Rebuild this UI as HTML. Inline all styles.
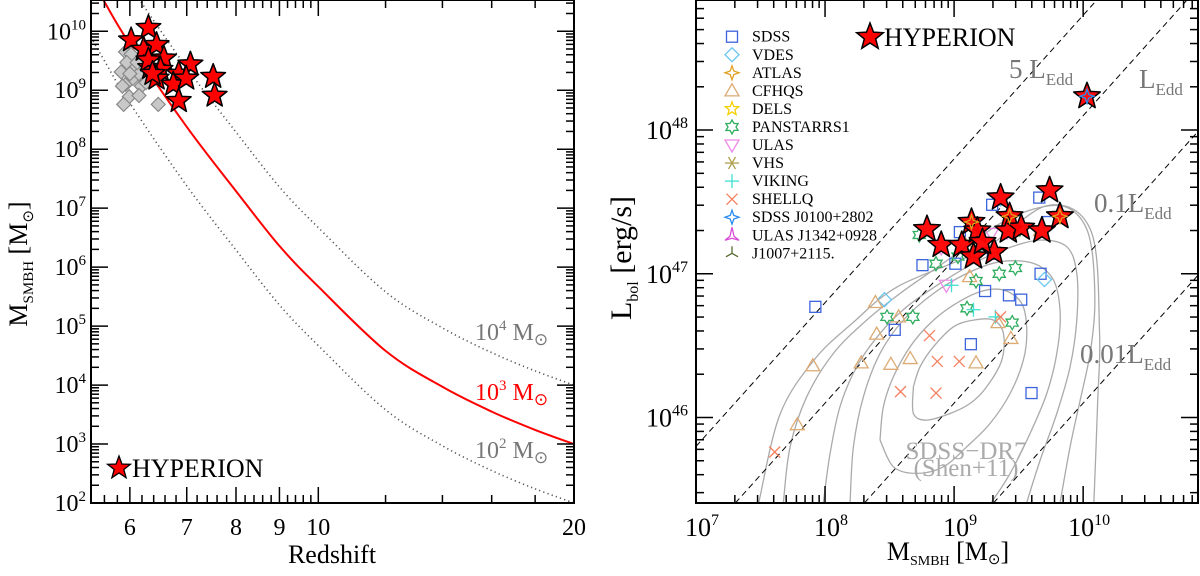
<!DOCTYPE html>
<html><head><meta charset="utf-8">
<style>
html,body{margin:0;padding:0;background:#fff;overflow:hidden;width:1200px;height:576px;}
svg{display:block;font-family:"Liberation Serif",serif;overflow:hidden;}
</style></head>
<body>
<svg id="fig" width="1200" height="576" viewBox="0 0 1200 576" xmlns="http://www.w3.org/2000/svg">
<defs>
<clipPath id="clipL"><rect x="91" y="0" width="483" height="503"/></clipPath>
<clipPath id="clipR"><rect x="696" y="0" width="502" height="503"/></clipPath>
</defs>
<g id="left"></g>
<g id="right"></g>
</svg>
<script>
// ---------- LEFT PANEL DATA ----------
const zCurve=[5.4,5.6,6,7,8,9,10,12,14,16,18,20];
const logMSeed3=[10.9,10.5,9.78,8.38,7.29,6.36,5.67,4.58,3.97,3.55,3.24,3.0];
const seedLogs=[2,3,4];
const hypZ=[6.31,6.02,6.23,6.45,6.58,6.34,6.31,6.52,6.45,6.85,7.07,6.75,6.99,6.85,7.52,7.55,6.38];
const hypLogM=[10.06,9.85,9.69,9.77,9.54,9.38,9.51,9.35,9.2,9.28,9.44,9.1,9.2,8.82,9.23,8.91,9.28];
const grayZ=[5.93,6.02,5.86,5.95,6.09,5.93,6.05,6.15,6.19,5.99,6.15,5.9,6.48,6.27,6.12,6.0,5.88];
const grayLogM=[9.65,9.61,9.31,9.47,9.38,9.10,9.2,9.28,9.07,8.89,8.91,8.76,8.76,9.13,9.47,9.28,9.07];
const yTicksL=[2,3,4,5,6,7,8,9,10];
const xMajorL=[6,7,8,9,10,20];
const xMinorL=[5.6,5.8,6.2,6.4,6.6,6.8,7.2,7.4,7.6,7.8,8.2,8.4,8.6,8.8,9.2,9.4,9.6,9.8,12,14,16,18];

// ---------- RIGHT PANEL DATA ----------
const eddFactors=[5,1,0.1,0.01];
const sdssM=[7.925,8.755,9.01,9.045,8.54,9.13,9.24,9.425,9.52,9.67,9.60,9.66,9.73,9.295,9.30];
const sdssL=[46.77,47.06,47.07,47.29,46.61,46.51,46.88,46.85,46.82,47.0,46.17,47.53,47.36,47.48,47.14];
const vdesM=[8.46,9.70,9.36];
const vdesL=[46.82,46.96,47.52];
const atlasM=[9.135,9.43,9.82];
const atlasL=[47.36,47.40,47.40];
const cfhqsM=[7.905,7.785,8.28,8.51,8.66,8.39,8.40,8.57,9.12,9.17,9.34,9.44,9.09,9.67];
const cfhqsL=[46.36,45.95,46.38,46.37,46.41,46.80,46.58,46.70,46.98,46.38,46.66,46.55,47.2,47.30];
const delsM=[9.135,9.43];
const delsL=[47.36,47.40];
const ps1M=[8.73,8.86,8.48,8.68,9.10,9.17,9.35,9.475,9.45,9.19,9.46,9.51,9.03,9.16];
const ps1L=[47.27,47.07,46.70,46.70,46.76,46.95,47.0,47.04,46.66,47.31,47.32,47.31,47.12,47.14];
const ulasM=[8.94,9.29,9.41,8.90];
const ulasL=[46.92,47.28,47.29,47.18];
const vhsM=[9.33];
const vhsL=[47.15];
const vikingM=[8.98,9.15,9.32];
const vikingL=[46.92,46.75,46.70];
const shellqM=[7.61,8.81,8.87,9.04,8.585,8.86,9.36];
const shellqL=[45.76,46.57,46.39,46.39,46.18,46.17,46.70];
const j0100M=[10.03];
const j0100L=[48.235];
const j1342M=[9.36];
const j1342L=[47.53];
const j1007M=[9.15];
const j1007L=[47.12];
const hypRM=[8.79,8.90,9.06,9.135,9.18,9.15,9.31,9.36,9.43,9.42,9.52,9.68,9.74,9.82,10.03,9.22];
const hypRL=[47.31,47.20,47.20,47.36,47.30,47.12,47.15,47.53,47.40,47.30,47.32,47.30,47.58,47.40,48.235,47.22];
const contour1=[[8.685,46.214],[8.736,46.353],[8.84,46.492],[8.995,46.631],[9.15,46.678],[9.305,46.678],[9.382,46.585],[9.37,46.4],[9.253,46.214],[9.124,46.098],[8.969,46.028],[8.788,45.982],[8.685,46.028],[8.685,46.214]];
const contour2=[[8.426,45.843],[8.452,46.075],[8.53,46.284],[8.659,46.492],[8.814,46.655],[8.995,46.782],[9.201,46.875],[9.382,46.887],[9.524,46.794],[9.563,46.608],[9.537,46.4],[9.434,46.167],[9.279,45.959],[9.098,45.796],[8.917,45.657],[8.711,45.611],[8.53,45.657],[8.426,45.843]];
const contour3=[[8.194,45.41],[8.22,45.796],[8.297,46.144],[8.426,46.446],[8.607,46.678],[8.84,46.863],[9.098,47.002],[9.357,47.084],[9.615,47.072],[9.77,46.956],[9.822,46.724],[9.796,46.446],[9.718,46.167],[9.589,45.889],[9.434,45.611],[9.29,45.41]];
const contour4=[[7.987,45.41],[8.039,45.75],[8.116,46.075],[8.245,46.353],[8.426,46.585],[8.633,46.77],[8.891,46.933],[9.15,47.072],[9.408,47.176],[9.667,47.234],[9.873,47.188],[9.951,47.002],[9.951,46.678],[9.899,46.353],[9.796,46.028],[9.667,45.704],[9.563,45.41]];
const contour5=[[7.677,45.41],[7.729,45.796],[7.858,46.144],[8.065,46.446],[8.323,46.678],[8.581,46.863],[8.84,47.026],[9.098,47.188],[9.357,47.35],[9.615,47.45],[9.847,47.47],[10.0,47.36],[10.07,47.15],[10.09,46.77],[10.054,46.446],[9.977,46.121],[9.899,45.796],[9.822,45.41]];
const contour6=[[7.487,45.41],[7.65,46.02],[7.917,46.402],[8.214,46.658],[8.57,46.914],[9.222,47.168],[9.726,47.475],[10.06,47.3],[10.127,46.606],[10.112,46.095],[10.083,45.41]];
const yMajorR=[46,47,48];
const xMajorR=[7,8,9,10];

// ---------- SCALES ----------
const L={x0:91,x1:574,y0:503,y1:0,zmin:5.40,zmax:20,mmin:2,mmax:10.53};
const xL=z=>L.x0+(Math.log10(z)-Math.log10(L.zmin))/(Math.log10(L.zmax)-Math.log10(L.zmin))*(L.x1-L.x0);
const yL=m=>L.y0-(m-L.mmin)/(L.mmax-L.mmin)*(L.y0-L.y1);
const R={x0:696,x1:1198,y0:503,y1:0,mmin:7,mmax:10.89,lmin:45.405,lmax:48.905};
const xR=m=>R.x0+(m-R.mmin)/(R.mmax-R.mmin)*(R.x1-R.x0);
const yR=l=>R.y0-(l-R.lmin)/(R.lmax-R.lmin)*(R.y0-R.y1);

const NS='http://www.w3.org/2000/svg';
function mk(tag,attrs,parent){const e=document.createElementNS(NS,tag);for(const k in attrs)e.setAttribute(k,attrs[k]);parent.appendChild(e);return e;}
function smooth(pts){let d='M'+pts[0][0].toFixed(1)+','+pts[0][1].toFixed(1);
 for(let i=0;i<pts.length-1;i++){const p0=pts[i-1]||pts[i],p1=pts[i],p2=pts[i+1],p3=pts[i+2]||p2;
  const c1=[p1[0]+(p2[0]-p0[0])/6,p1[1]+(p2[1]-p0[1])/6],c2=[p2[0]-(p3[0]-p1[0])/6,p2[1]-(p3[1]-p1[1])/6];
  d+=' C'+c1[0].toFixed(1)+','+c1[1].toFixed(1)+' '+c2[0].toFixed(1)+','+c2[1].toFixed(1)+' '+p2[0].toFixed(1)+','+p2[1].toFixed(1);}
 return d;}
function starPts(cx,cy,n,R1,r1){let p=[];for(let i=0;i<2*n;i++){const a=-Math.PI/2+i*Math.PI/n;const rr=i%2?r1:R1;p.push((cx+rr*Math.cos(a)).toFixed(1)+','+(cy+rr*Math.sin(a)).toFixed(1));}return p.join(' ');}

const gl=document.getElementById('left');
const gr=document.getElementById('right');

// ---------- LEFT PANEL ----------
const lc=mk('g',{'clip-path':'url(#clipL)'},gl);


seedLogs.forEach(s=>{
 const pts=zCurve.map((z,i)=>[xL(z),yL(logMSeed3[i]+(s-3))]);
 const p=mk('path',{d:smooth(pts),fill:'none',stroke:s===3?'#ff0000':'#555','stroke-width':s===3?2:1.6,'stroke-dasharray':s===3?'none':'1.2,3.2'},lc);
 
 
});
grayZ.forEach((z,i)=>{
 const cx=xL(z),cy=yL(grayLogM[i]),h=7;
 const d=mk('polygon',{points:`${cx},${cy-h} ${cx+h},${cy} ${cx},${cy+h} ${cx-h},${cy}`,fill:'#c8c8c8',stroke:'#888','stroke-width':1.2},lc);
 
 
});
hypZ.forEach((z,i)=>{
 const s=mk('polygon',{points:starPts(xL(z),yL(hypLogM[i]),5,13,5.5),fill:'#f00',stroke:'#000','stroke-width':1.5,'stroke-linejoin':'round'},lc);
 
 
});
const fl=mk('rect',{x:L.x0,y:0,width:L.x1-L.x0,height:L.y0,fill:'none',stroke:'#000','stroke-width':2},gl);


const tl=mk('g',{stroke:'#000','stroke-width':1.5},gl);


for(let dcd=2;dcd<=10;dcd++){for(let k=1;k<=9;k++){const m=dcd+Math.log10(k);if(m>L.mmax)continue;const y=yL(m);const len=k===1?17:8;
 mk('line',{x1:L.x0,x2:L.x0+len,y1:y,y2:y},tl);mk('line',{x1:L.x1,x2:L.x1-len,y1:y,y2:y},tl);}}
xMajorL.forEach(z=>{const x=xL(z);mk('line',{x1:x,x2:x,y1:L.y0,y2:L.y0-16},tl);mk('line',{x1:x,x2:x,y1:0,y2:16},tl);});
xMinorL.forEach(z=>{const x=xL(z);mk('line',{x1:x,x2:x,y1:L.y0,y2:L.y0-8},tl);mk('line',{x1:x,x2:x,y1:0,y2:8},tl);});
yTicksL.forEach(m=>{const t=mk('text',{x:86,y:yL(m)+8,'text-anchor':'end','font-size':24,fill:'#000'},gl);
 
 
 t.innerHTML='10<tspan dy="-10" font-size="15">'+m+'</tspan>';});
xMajorL.forEach(z=>{const t=mk('text',{x:xL(z),y:535,'text-anchor':'middle','font-size':24,fill:'#000'},gl);
 
 
 t.textContent=z;});
</script>
<script>
// ---------- RIGHT PANEL ----------
(function(){
const rc=mk('g',{'clip-path':'url(#clipR)'},gr);


[contour1,contour2,contour3,contour4,contour5,contour6].forEach((c,i)=>{
 const p=mk('path',{d:smooth(c.map(q=>[xR(q[0]),yR(q[1])])),fill:'none',stroke:'#aaa','stroke-width':1.3},rc);
 
 
});
eddFactors.forEach(f=>{
 const c=38.1+Math.log10(f);
 const a=Math.max(R.mmin,R.lmin-c),b=Math.min(R.mmax,R.lmax-c);
 const l=mk('line',{x1:xR(a),y1:yR(a+c),x2:xR(b),y2:yR(b+c),stroke:'#000','stroke-width':1,'stroke-dasharray':'6,4'},rc);
 
 
});
function marker(kind,cx,cy,col,par){
 const g=mk('g',{fill:'none',stroke:col,'stroke-width':1.3},par||rc);
 if(kind==='sq')mk('rect',{x:cx-5.5,y:cy-5.5,width:11,height:11},g);
 else if(kind==='dia')mk('polygon',{points:`${cx},${cy-7} ${cx+7},${cy} ${cx},${cy+7} ${cx-7},${cy}`},g);
 else if(kind==='tri')mk('polygon',{points:`${cx},${cy-7} ${cx+7},${cy+5} ${cx-7},${cy+5}`},g);
 else if(kind==='dtri')mk('polygon',{points:`${cx},${cy+7} ${cx+7},${cy-5} ${cx-7},${cy-5}`},g);
 else if(kind==='s4')mk('polygon',{points:starPts(cx,cy,4,7,2.5)},g);
 else if(kind==='s5')mk('polygon',{points:starPts(cx,cy,5,7,3)},g);
 else if(kind==='s6')mk('polygon',{points:starPts(cx,cy,6,7,4)},g);
 else if(kind==='plus'){mk('line',{x1:cx-7,x2:cx+7,y1:cy,y2:cy},g);mk('line',{x1:cx,x2:cx,y1:cy-7,y2:cy+7},g);}
 else if(kind==='x'){mk('line',{x1:cx-5.5,x2:cx+5.5,y1:cy-5.5,y2:cy+5.5},g);mk('line',{x1:cx-5.5,x2:cx+5.5,y1:cy+5.5,y2:cy-5.5},g);}
 else if(kind==='ast'){for(let i=0;i<3;i++){const a=i*Math.PI/3;mk('line',{x1:cx-7*Math.cos(a),x2:cx+7*Math.cos(a),y1:cy-7*Math.sin(a),y2:cy+7*Math.sin(a)},g);}}
 else if(kind==='y'){for(let i=0;i<3;i++){const a=Math.PI/2+i*2*Math.PI/3;mk('line',{x1:cx,y1:cy,x2:cx+7*Math.cos(a),y2:cy-7*Math.sin(a)},g);}}
 else if(kind==='ptri')mk('polygon',{points:`${cx},${cy-8} ${cx+2},${cy+1} ${cx+7},${cy+5} ${cx},${cy+3} ${cx-7},${cy+5} ${cx-2},${cy+1}`},g);
 return g;
}
const surveys=[
 ['SDSS','sq','#3d64dd',sdssM,sdssL],['VDES','dia','#6cc6f2',vdesM,vdesL],['ATLAS','s4','#e3a020',atlasM,atlasL],
 ['CFHQS','tri','#dcaa72',cfhqsM,cfhqsL],['DELS','s5','#f5d000',delsM,delsL],['PANSTARRS1','s6','#2fae5f',ps1M,ps1L],
 ['ULAS','dtri','#ee8ae8',ulasM,ulasL],['VHS','ast','#b0a050',vhsM,vhsL],['VIKING','plus','#3fe0d0',vikingM,vikingL],
 ['SHELLQ','x','#f58060',shellqM,shellqL],['SDSS J0100+2802','s4','#2b8cf0',j0100M,j0100L],
 ['ULAS J1342+0928','ptri','#d84ad8',j1342M,j1342L],['J1007+2115.','y','#556b2f',j1007M,j1007L]];
surveys.forEach(s=>{s[3].forEach((m,i)=>{const g=marker(s[1],xR(m),yR(s[4][i]),s[2]);
 
 });});
hypRM.forEach((m,i)=>{
 const st=mk('polygon',{points:starPts(xR(m),yR(hypRL[i]),5,14,6),fill:'#f00',stroke:'#000','stroke-width':1.5,'stroke-linejoin':'round','fill-opacity':0.95},rc);
 
 
});
[['s4','#e3a020',atlasM,atlasL],['s4','#2b8cf0',j0100M,j0100L]].forEach(s=>{s[2].forEach((m,i)=>{const g=marker(s[0],xR(m),yR(s[3][i]),s[1]);
 
 });});
const fr=mk('rect',{x:R.x0,y:0,width:R.x1-R.x0,height:R.y0,fill:'none',stroke:'#000','stroke-width':2},gr);


const tr=mk('g',{stroke:'#000','stroke-width':1.5},gr);


for(let d=45;d<=48;d++)for(let k=1;k<=9;k++){const l=d+Math.log10(k);if(l<R.lmin||l>R.lmax)continue;const y=yR(l),len=k===1?17:8;
 mk('line',{x1:R.x0,x2:R.x0+len,y1:y,y2:y},tr);mk('line',{x1:R.x1,x2:R.x1-len,y1:y,y2:y},tr);}
for(let d=7;d<=10;d++)for(let k=1;k<=9;k++){const m=d+Math.log10(k);if(m>R.mmax)continue;const x=xR(m),len=k===1?17:8;
 mk('line',{x1:x,x2:x,y1:R.y0,y2:R.y0-len},tr);mk('line',{x1:x,x2:x,y1:0,y2:len},tr);}
yMajorR.forEach(l=>{const t=mk('text',{x:688,y:yR(l)+9,'text-anchor':'end','font-size':26,fill:'#000'},gr);
 
 
 t.innerHTML='10<tspan dy="-11" font-size="16">'+l+'</tspan>';});
xMajorR.forEach(m=>{const t=mk('text',{x:xR(m)+6,y:536,'text-anchor':'middle','font-size':26,fill:'#000'},gr);
 
 
 t.innerHTML='10<tspan dy="-11" font-size="16">'+m+'</tspan>';});
surveys.forEach((s,i)=>{const y=36.7+18.05*i;
 const g=marker(s[1],732,y,s[2],gr);
 
 
 const t=mk('text',{x:752,y:y+5,'font-size':16,fill:'#000'},gr);
 
 
 t.textContent=s[0];});
})();
</script>
<script>
(function(){
const svg=document.getElementById('fig');
function txt(html,attrs,name){const t=mk('text',attrs,svg);t.innerHTML=html;
 
 return t;}
txt('M<tspan font-size="15" dy="6">SMBH</tspan><tspan dy="-6"> [M</tspan><tspan font-size="15" dy="6">⊙</tspan><tspan dy="-6">]</tspan>',{x:0,y:0,'font-size':26,'text-anchor':'middle',transform:'translate(27,264) rotate(-90)'},'y-axis-title-left');
txt('Redshift',{x:332,y:563,'font-size':26,'text-anchor':'middle'},'x-axis-title-left');
txt('10<tspan font-size="15" dy="-10">4</tspan><tspan dy="10"> M</tspan><tspan font-size="17" dy="5">⊙</tspan>',{x:475,y:340,'font-size':24,fill:'#777'},'seed-label-1e4');
txt('10<tspan font-size="15" dy="-10">3</tspan><tspan dy="10"> M</tspan><tspan font-size="17" dy="5">⊙</tspan>',{x:475,y:400,'font-size':24,fill:'#f00'},'seed-label-1e3');
txt('10<tspan font-size="15" dy="-10">2</tspan><tspan dy="10"> M</tspan><tspan font-size="17" dy="5">⊙</tspan>',{x:475,y:458,'font-size':24,fill:'#777'},'seed-label-1e2');
const s1=mk('polygon',{points:starPts(119,468,5,12,5),fill:'#f00',stroke:'#000','stroke-width':1.3},svg);


txt('HYPERION',{x:132,y:477,'font-size':26},'legend-hyperion-left');
txt('L<tspan font-size="16" dy="7">bol</tspan><tspan dy="-7"> [erg/s]</tspan>',{x:0,y:0,'font-size':30,'text-anchor':'middle',transform:'translate(631,258) rotate(-90)'},'y-axis-title-right');
txt('M<tspan font-size="14" dy="5">SMBH</tspan><tspan dy="-5"> [M</tspan><tspan font-size="15" dy="4">⊙</tspan><tspan dy="-4">]</tspan>',{x:948,y:560,'font-size':26,'text-anchor':'middle'},'x-axis-title-right');
const s2=mk('polygon',{points:starPts(870,37,5,14,6),fill:'#f00',stroke:'#000','stroke-width':1.5},svg);


txt('HYPERION',{x:884,y:46,'font-size':26},'legend-hyperion-right');
txt('5 L<tspan font-size="17" dy="7">Edd</tspan>',{x:1009,y:78,'font-size':27,fill:'#777'},'label-5-ledd');
txt('L<tspan font-size="17" dy="7">Edd</tspan>',{x:1139,y:88,'font-size':27,fill:'#777'},'label-ledd');
txt('0.1L<tspan font-size="17" dy="7">Edd</tspan>',{x:1094,y:212,'font-size':27,fill:'#777'},'label-0.1-ledd');
txt('0.01L<tspan font-size="17" dy="7">Edd</tspan>',{x:1080,y:363,'font-size':27,fill:'#777'},'label-0.01-ledd');
txt('SDSS−DR7',{x:966,y:459,'font-size':25,'text-anchor':'middle',fill:'#aaa'},'label-sdss-dr7');
txt('(Shen+11)',{x:966,y:476,'font-size':25,'text-anchor':'middle',fill:'#aaa'},'label-shen11');
})();
</script>
</body></html>
